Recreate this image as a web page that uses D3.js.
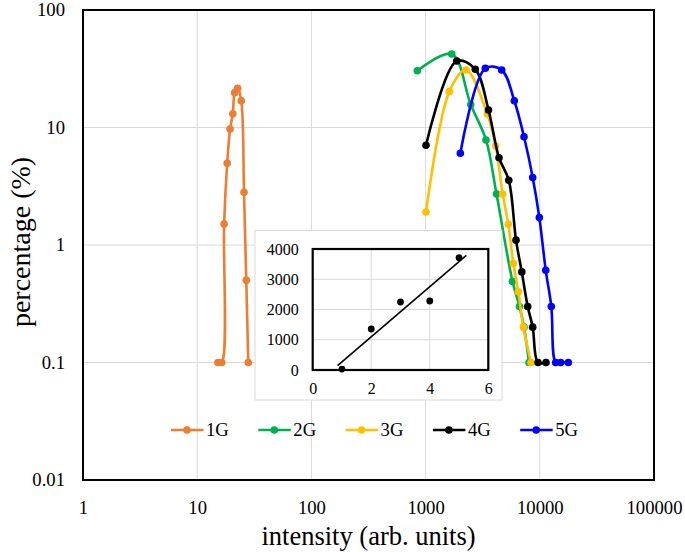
<!DOCTYPE html>
<html><head><meta charset="utf-8">
<script src="https://cdn.jsdelivr.net/npm/d3@7"></script>
<style>body{margin:0;background:#fff}svg{display:block}svg text{font-family:"Liberation Serif","Times New Roman",serif !important;fill:#000}</style>
</head><body><svg id="c" width="685" height="552"></svg>
<script>
// ---- data ----
const seriesNames = ["1G", "2G", "3G", "4G", "5G"];
const seriesColors = ["#ED7D31", "#00B050", "#FFC000", "#000000", "#0000FF"];

const intensity1G = [15.2, 16.4, 17.2, 18.3, 19.4, 20.5, 21.3, 22.6, 24.3, 25.7, 26.9, 28.0];
const percent1G   = [0.1, 0.1, 1.51, 4.96, 9.7, 13.1, 19.8, 21.6, 16.9, 2.81, 0.50, 0.1];

const intensity2G = [846, 1693, 2483, 3380, 4178, 5767, 6640, 7274, 8040];
const percent2G   = [30.4, 42.2, 15.7, 7.83, 2.72, 0.49, 0.30, 0.20, 0.1];

const intensity3G = [1008, 1613, 2259, 3470, 4110, 4732, 5298, 5861, 6484, 7173, 8375];
const percent3G   = [1.91, 20.2, 30.9, 13.0, 6.96, 2.72, 1.50, 0.70, 0.40, 0.20, 0.1];

const intensity4G = [1008, 1872, 2724, 3554, 4394, 5352, 6190, 6956, 7834, 8667, 9646, 11330];
const percent4G   = [7.06, 36.8, 31.3, 14.1, 5.53, 3.55, 1.10, 0.59, 0.30, 0.20, 0.1, 0.1];

const intensity5G = [2014, 3333, 4637, 5981, 7274, 8667, 9906, 11270, 12610, 13780, 15240, 17770];
const percent5G   = [6.03, 31.9, 30.9, 16.9, 8.35, 3.75, 1.71, 0.61, 0.30, 0.1, 0.1, 0.1];

const xTickValues = [1, 10, 100, 1000, 10000, 100000];
const yTickValues = [0.01, 0.1, 1, 10, 100];
const xTitle = "intensity (arb. units)";
const yTitle = "percentage (%)";

// inset data
const insetX = [1, 2, 3, 4, 5];
const insetY = [30, 1355, 2248, 2281, 3712];
const insetXTicks = [0, 2, 4, 6];
const insetYTicks = [0, 1000, 2000, 3000, 4000];

// ---- build ----
const SERIF = "'Liberation Serif', 'Times New Roman', serif";
const allX = [intensity1G, intensity2G, intensity3G, intensity4G, intensity5G];
const allY = [percent1G, percent2G, percent3G, percent4G, percent5G];
const series = seriesNames.map((n, i) => ({
  name: n, color: seriesColors[i],
  pts: allX[i].map((v, j) => ({x: v, y: allY[i][j]}))
}));

const svg = d3.select("#c");
const L = 83, R = 654, T = 10, B = 480;
const x = d3.scaleLog().domain([1, 100000]).range([L, R]);
const y = d3.scaleLog().domain([0.01, 100]).range([B, T]);
const grid = "#d9d9d9";

// gridlines
svg.append("g").selectAll("line").data(xTickValues.slice(1, -1)).join("line")
  .attr("x1", d => x(d)).attr("x2", d => x(d)).attr("y1", T).attr("y2", B)
  .attr("stroke", grid).attr("stroke-width", 1);
svg.append("g").selectAll("line").data(yTickValues.slice(1, -1)).join("line")
  .attr("y1", d => y(d)).attr("y2", d => y(d)).attr("x1", L).attr("x2", R)
  .attr("stroke", grid).attr("stroke-width", 1);

// axes (labels)
const fmt = d => String(d);
const xAxis = svg.append("g").attr("transform", `translate(0,${B})`)
  .call(d3.axisBottom(x).tickValues(xTickValues).tickFormat(fmt).tickSize(0).tickPadding(21));
xAxis.attr("font-family", null).attr("font-size", null);
xAxis.select(".domain").remove();
xAxis.selectAll("text").style("font-family", SERIF).style("font-size", "18.67px");
const yAxis = svg.append("g").attr("transform", `translate(${L},0)`)
  .call(d3.axisLeft(y).tickValues(yTickValues).tickFormat(fmt).tickSize(0).tickPadding(18));
yAxis.attr("font-family", null).attr("font-size", null);
yAxis.select(".domain").remove();
yAxis.selectAll("text").style("font-family", SERIF).style("font-size", "18.67px");

// series
const line = d3.line().x(d => x(d.x)).y(d => y(d.y)).curve(d3.curveCatmullRom.alpha(0.5));
series.forEach(s => {
  const g = svg.append("g");
  g.append("path").datum(s.pts).attr("d", line).attr("fill", "none")
    .attr("stroke", s.color).attr("stroke-width", 2.6).attr("stroke-linejoin", "round");
  g.selectAll("circle").data(s.pts).join("circle")
    .attr("cx", d => x(d.x)).attr("cy", d => y(d.y)).attr("r", 3.8).attr("fill", s.color);
});

// frame
svg.append("rect").attr("x", L).attr("y", T).attr("width", R - L).attr("height", B - T)
  .attr("fill", "none").attr("stroke", "#000").attr("stroke-width", 2);

// axis titles
svg.append("text").attr("x", (L + R) / 2).attr("y", 545).attr("text-anchor", "middle")
  .style("font-family", SERIF).style("font-size", "26.5px").text(xTitle);
svg.append("text").attr("transform", `translate(30,${(T + B) / 2 - 3}) rotate(-90)`)
  .attr("text-anchor", "middle").style("font-family", SERIF).style("font-size", "28px").text(yTitle);

// legend
const lg = svg.append("g");
series.forEach((s, i) => {
  const x0 = 171 + i * 87.3, ly = 430;
  lg.append("line").attr("x1", x0).attr("x2", x0 + 32.5).attr("y1", ly).attr("y2", ly)
    .attr("stroke", s.color).attr("stroke-width", 2.6);
  lg.append("circle").attr("cx", x0 + 16).attr("cy", ly).attr("r", 3.8).attr("fill", s.color);
  lg.append("text").attr("x", x0 + 35).attr("y", ly + 6.3)
    .style("font-family", SERIF).style("font-size", "18.67px").text(s.name);
});

// ---- inset ----
const IL = 312.7, IR = 488.3, IT = 249, IB = 370;
svg.append("rect").attr("x", 255).attr("y", 230.5).attr("width", 247).attr("height", 169.5)
  .attr("fill", "#fff").attr("stroke", grid).attr("stroke-width", 1);
const ix = d3.scaleLinear().domain([0, 6]).range([IL, IR]);
const iy = d3.scaleLinear().domain([0, 4000]).range([IB, IT]);
svg.append("g").selectAll("line").data(insetYTicks.slice(1, -1)).join("line")
  .attr("x1", IL).attr("x2", IR).attr("y1", d => iy(d)).attr("y2", d => iy(d))
  .attr("stroke", grid).attr("stroke-width", 1);
svg.append("g").selectAll("line").data(insetXTicks.slice(1, -1)).join("line")
  .attr("y1", IT).attr("y2", IB).attr("x1", d => ix(d)).attr("x2", d => ix(d))
  .attr("stroke", grid).attr("stroke-width", 1);
const ixAxis = svg.append("g").attr("transform", `translate(0,${IB})`)
  .call(d3.axisBottom(ix).tickValues(insetXTicks).tickFormat(fmt).tickSize(0).tickPadding(13));
ixAxis.attr("font-family", null).attr("font-size", null);
ixAxis.select(".domain").remove();
ixAxis.selectAll("text").style("font-family", SERIF).style("font-size", "16px");
const iyAxis = svg.append("g").attr("transform", `translate(${IL},0)`)
  .call(d3.axisLeft(iy).tickValues(insetYTicks).tickFormat(fmt).tickSize(0).tickPadding(14));
iyAxis.attr("font-family", null).attr("font-size", null);
iyAxis.select(".domain").remove();
iyAxis.selectAll("text").style("font-family", SERIF).style("font-size", "16px");

// trendline (least squares from data)
const mx = d3.mean(insetX), my = d3.mean(insetY);
const slope = d3.sum(insetX.map((v, i) => (v - mx) * (insetY[i] - my))) / d3.sum(insetX.map(v => (v - mx) ** 2));
const icpt = my - slope * mx;
const tx0 = 0.85, tx1 = 5.25;
svg.append("line").attr("x1", ix(tx0)).attr("y1", iy(icpt + slope * tx0))
  .attr("x2", ix(tx1)).attr("y2", iy(icpt + slope * tx1))
  .attr("stroke", "#000").attr("stroke-width", 1.6);
svg.append("g").selectAll("circle").data(insetX.map((v, i) => ({x: v, y: insetY[i]}))).join("circle")
  .attr("cx", d => ix(d.x)).attr("cy", d => iy(d.y)).attr("r", 3.4).attr("fill", "#000");
svg.append("rect").attr("x", IL).attr("y", IT).attr("width", IR - IL).attr("height", IB - IT)
  .attr("fill", "none").attr("stroke", "#000").attr("stroke-width", 2.2);
</script></body></html>
